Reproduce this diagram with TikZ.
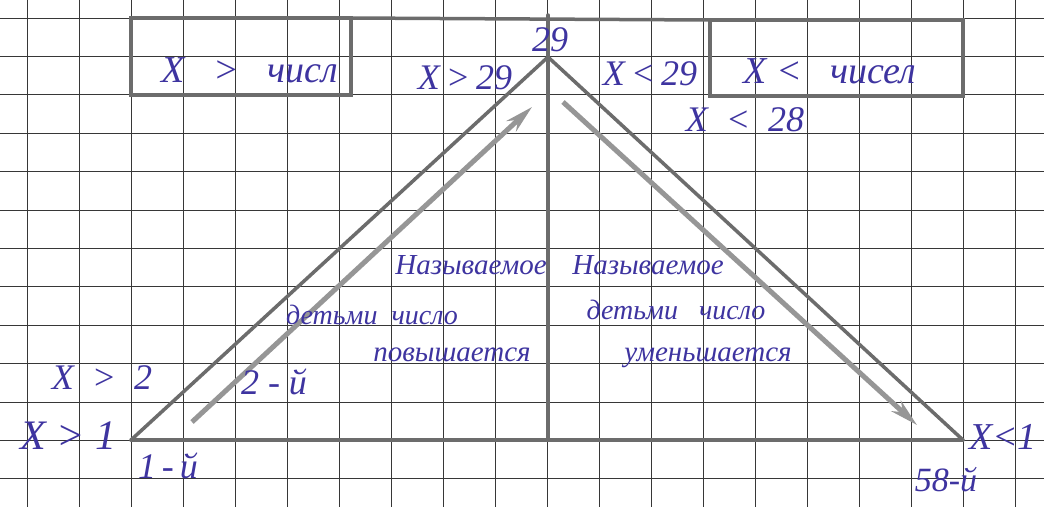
\documentclass[tikz,border=0pt]{standalone}
\usepackage{fontspec}
\setmainfont{Liberation Serif}
\usetikzlibrary{arrows.meta}
\definecolor{ink}{RGB}{62,52,160}
\definecolor{pencil}{RGB}{108,108,108}
\definecolor{pencillt}{RGB}{150,150,150}
\definecolor{gridc}{RGB}{55,55,55}
\tikzset{
  inktext/.style={text=ink, font=\itshape\fontsize{#1}{#1}\selectfont, inner sep=0pt},
  pen/.style={draw=pencil, line width=3.5pt, line cap=round},
  arr/.style={draw=pencillt, line width=5pt, -{Stealth[length=28pt,width=14pt]}},
  gridline/.style={draw=gridc, line width=1pt},
}
\begin{document}
\begin{tikzpicture}[x=1pt,y=-1pt]
\useasboundingbox (0,0) rectangle (1044,507);
\fill[white] (0,0) rectangle (1044,507);
% squared paper
\foreach \k in {0,...,19} \draw[gridline] ({27+52*\k},0) -- ({27+52*\k},507);
\foreach \k in {0,...,12} \draw[gridline] (0,{18+38.4*\k}) -- (1044,{18+38.4*\k});
% main frame
\coordinate (L) at (131,440);
\coordinate (T) at (548,57);
\coordinate (R) at (963,440);
\coordinate (Top) at (548,15);
\coordinate (M) at (548,440);
\coordinate (bl1) at (131,18);
\coordinate (bl2) at (351,95);
\coordinate (br1) at (710,20);
\coordinate (br2) at (963,96);
\draw[pen] (bl1) rectangle (bl2);
\draw[pen] (br1) rectangle (br2);
\draw[pen] (351,18) -- (br1);
\draw[pen] (L) -- (R);
\draw[pen] (L) -- (T) -- (R);
\draw[pen] (Top) -- (M);
% inner arrows
\coordinate (a1) at (192,422);
\coordinate (a2) at (532,107);
\coordinate (b1) at (563,102);
\coordinate (b2) at (917,425);
\draw[arr] (a1) -- (a2);
\draw[arr] (b1) -- (b2);
% labels
\node[inktext=38] (t1) at (250,70) {X\ \ \ >\ \ \ числ};
\node[inktext=36] (t2) at (465,78) {X\,>\,29};
\node[inktext=36] (t3) at (550,40) {29};
\node[inktext=36] (t4) at (650,74) {X\,<\,29};
\node[inktext=38] (t5) at (830,71) {X\ <\ \ \ чисел};
\node[inktext=36] (t6) at (745,120) {X\ \ <\ \ 28};
\node[inktext=29] (m1) at (471,265) {Называемое};
\node[inktext=28] (m2) at (372,315) {детьми\ \ число};
\node[inktext=29] (m3) at (452,355) {повышается};
\node[inktext=29] (n1) at (648,265) {Называемое};
\node[inktext=28] (n2) at (676,310) {детьми\ \ \ число};
\node[inktext=29] (n3) at (708,358) {уменьшается};
\node[inktext=36] (x2) at (102,378) {X\ \ >\ \ 2};
\node[inktext=42] (x1) at (68,436) {X\ >\ 1};
\node[inktext=36] (o1) at (168,466) {1\,-\,й};
\node[inktext=36] (o2) at (274,382) {2\ -\ й};
\node[inktext=34] (o58) at (946,480) {58-й};
\node[inktext=38] (xr) at (1003,437) {X<1};
\end{tikzpicture}
\end{document}
